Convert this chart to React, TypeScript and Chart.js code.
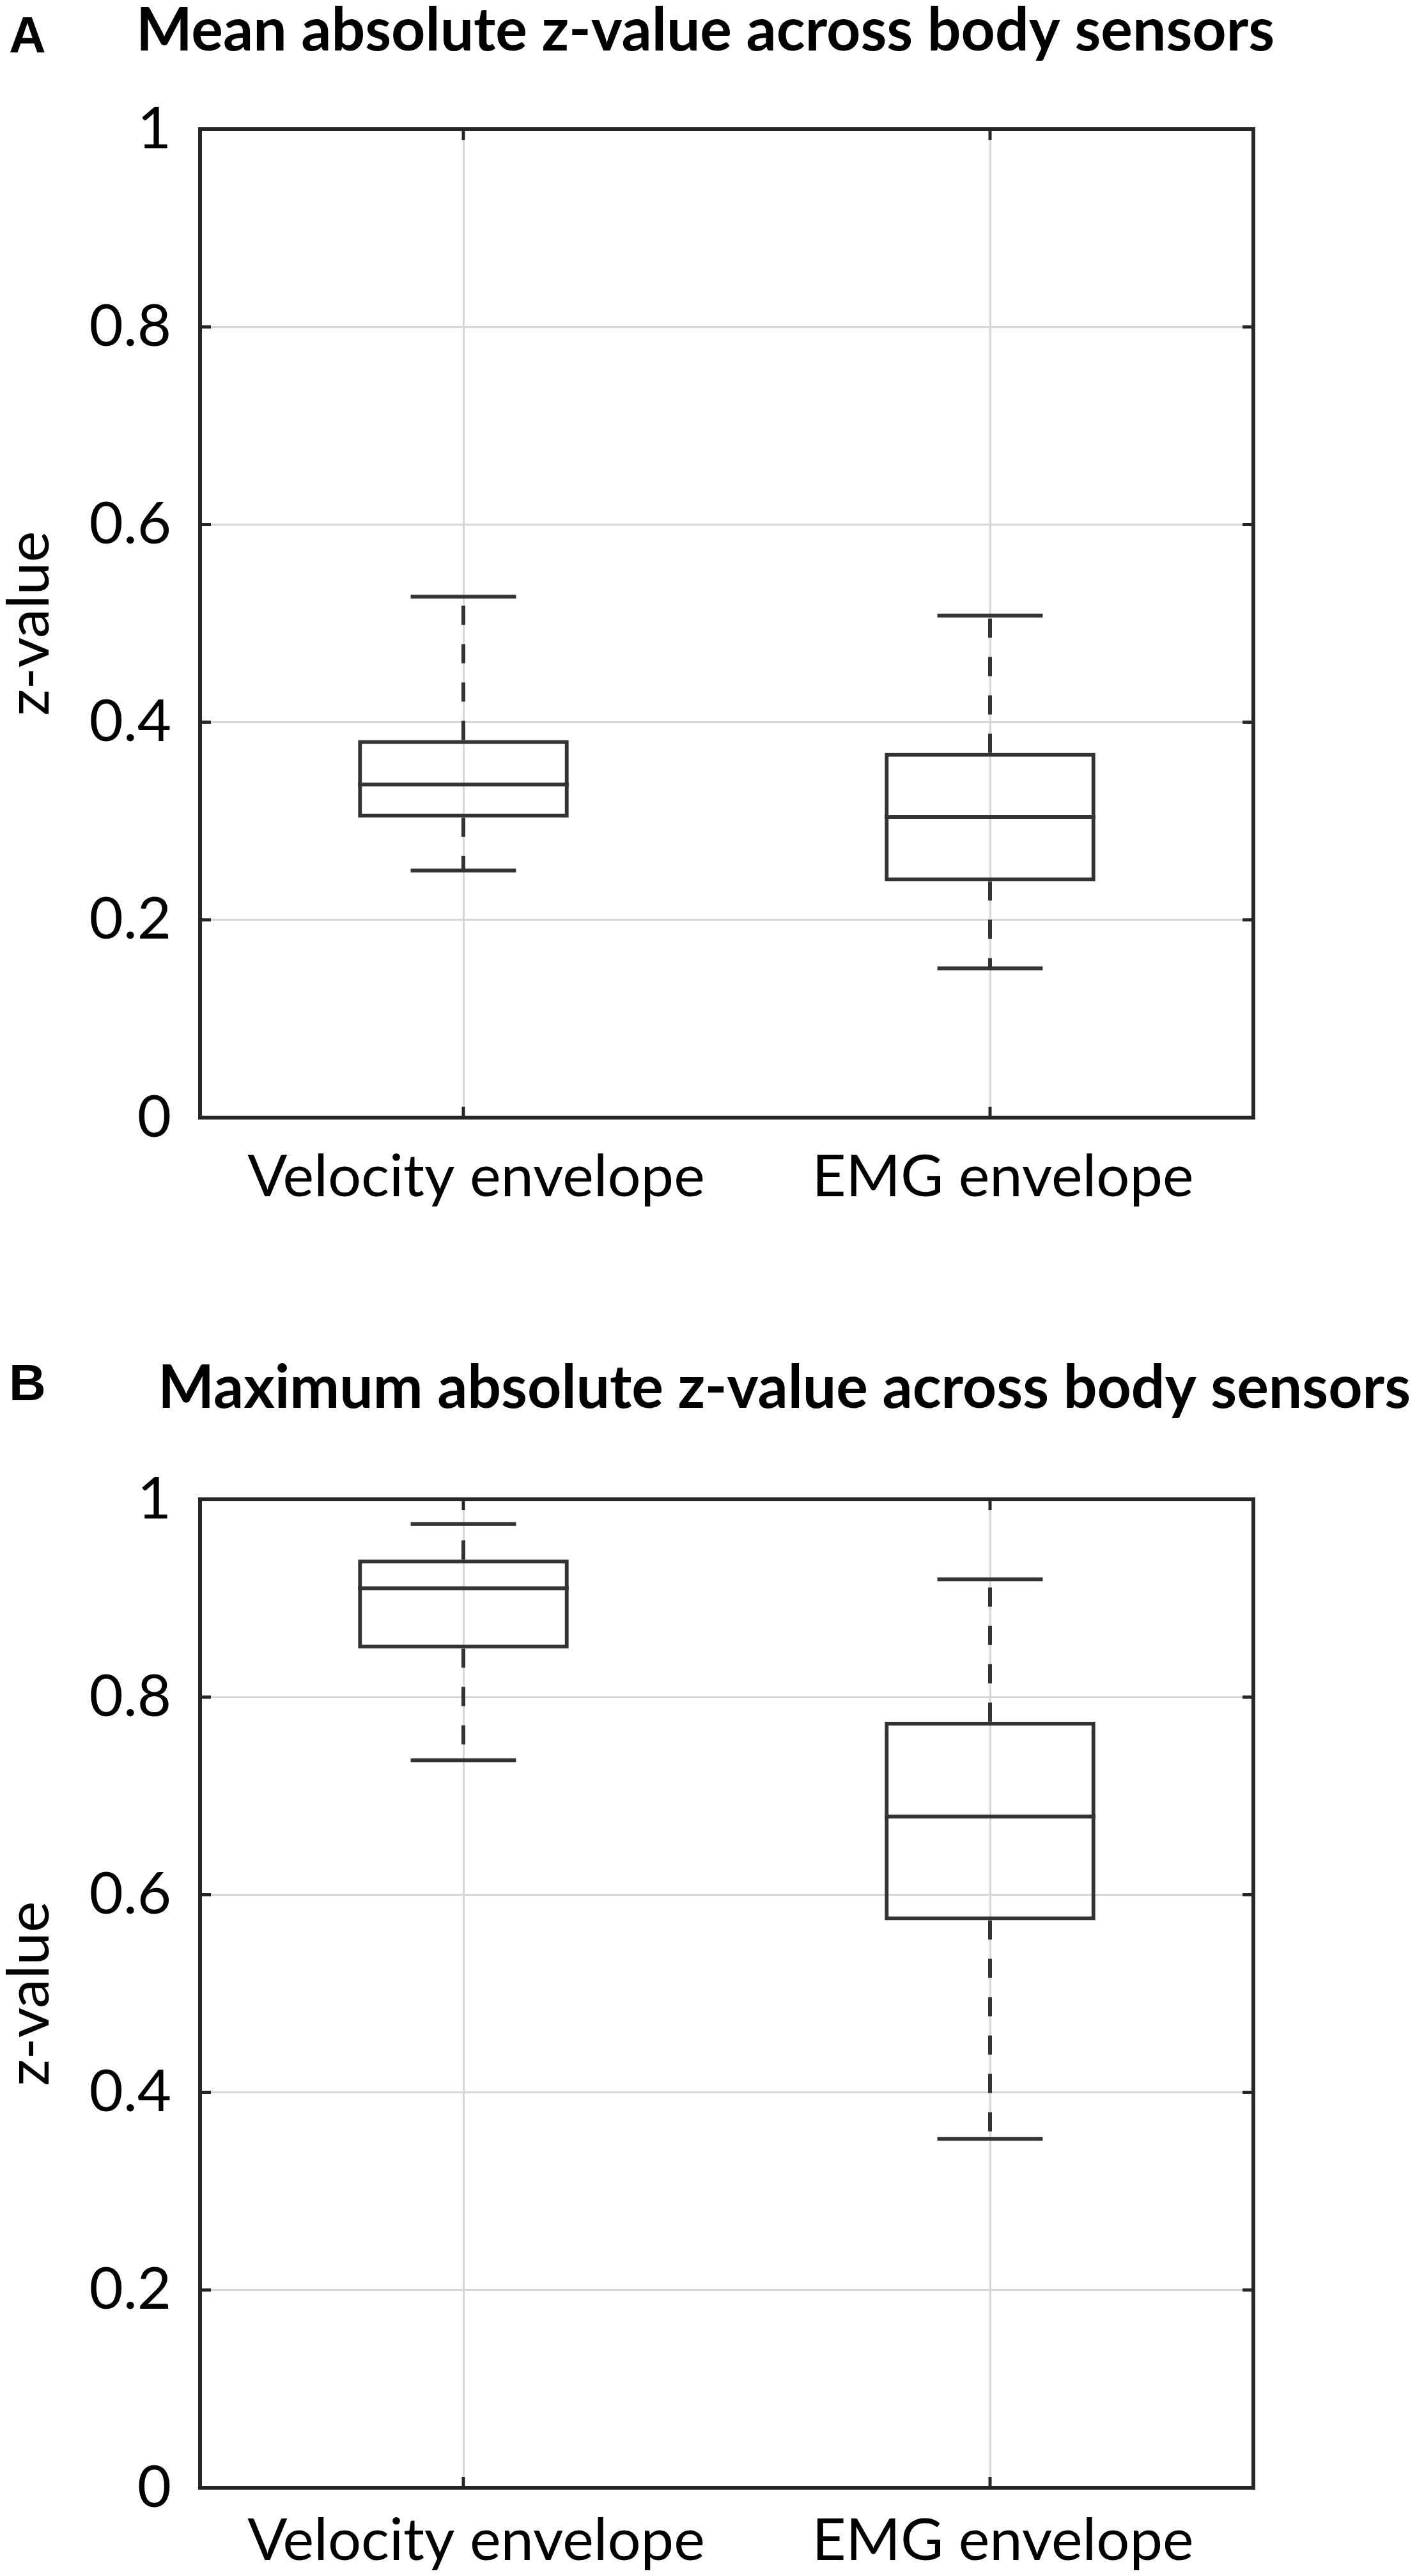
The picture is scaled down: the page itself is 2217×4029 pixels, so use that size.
import { useEffect, useRef } from 'react'
import { Chart, registerables } from 'chart.js'

Chart.register(...registerables)

const categories = ['Velocity envelope', 'EMG envelope']

// panel A: mean absolute z-value
const meanMin = [0.25, 0.151]
const meanQ1 = [0.3035, 0.239]
const meanMedian = [0.337, 0.304]
const meanQ3 = [0.382, 0.369]
const meanMax = [0.527, 0.508]

// panel B: maximum absolute z-value
const maxMin = [0.736, 0.353]
const maxQ1 = [0.849, 0.574]
const maxMedian = [0.91, 0.679]
const maxQ3 = [0.939, 0.775]
const maxMax = [0.975, 0.919]

const yTicks = [0, 0.2, 0.4, 0.6, 0.8, 1]
const yTickLabels = ['0', '0.2', '0.4', '0.6', '0.8', '1']

const FRAME = '#262626'
const BOX = '#333333'
const GRID = '#d6d6d6'

// draws median, dashed whiskers, caps, the closed axes box, inward ticks and the panel letter
const matlabBox = {
  id: 'matlabBox',
  afterDatasetsDraw(chart: any, _args: any, opts: any) {
    const { ctx, chartArea: a, scales } = chart
    const x = scales.x
    const y = scales.y
    const meta = chart.getDatasetMeta(0)
    ctx.save()
    ctx.strokeStyle = BOX
    ctx.lineWidth = 6
    ctx.lineCap = 'butt'
    opts.median.forEach((m: number, i: number) => {
      const cx = x.getPixelForValue(i)
      const half = meta.data[i].width / 2
      const cap = half / 2
      // median
      ctx.setLineDash([])
      ctx.beginPath()
      ctx.moveTo(cx - half, y.getPixelForValue(m))
      ctx.lineTo(cx + half, y.getPixelForValue(m))
      ctx.stroke()
      // caps
      ;[opts.max[i], opts.min[i]].forEach((v: number) => {
        ctx.beginPath()
        ctx.moveTo(cx - cap, y.getPixelForValue(v))
        ctx.lineTo(cx + cap, y.getPixelForValue(v))
        ctx.stroke()
      })
      // whiskers
      ctx.setLineDash([30, 30])
      ctx.beginPath()
      ctx.moveTo(cx, y.getPixelForValue(opts.q3[i]))
      ctx.lineTo(cx, y.getPixelForValue(opts.max[i]))
      ctx.stroke()
      ctx.beginPath()
      ctx.moveTo(cx, y.getPixelForValue(opts.q1[i]))
      ctx.lineTo(cx, y.getPixelForValue(opts.min[i]))
      ctx.stroke()
    })
    ctx.setLineDash([])

    // inward ticks on all four sides
    const tl = 17
    ctx.strokeStyle = FRAME
    ctx.lineWidth = 5
    y.ticks.forEach((t: any) => {
      const py = y.getPixelForValue(t.value)
      ctx.beginPath()
      ctx.moveTo(a.left, py)
      ctx.lineTo(a.left + tl, py)
      ctx.moveTo(a.right, py)
      ctx.lineTo(a.right - tl, py)
      ctx.stroke()
    })
    x.ticks.forEach((_t: any, i: number) => {
      const px = x.getPixelForValue(i)
      ctx.beginPath()
      ctx.moveTo(px, a.bottom)
      ctx.lineTo(px, a.bottom - tl)
      ctx.moveTo(px, a.top)
      ctx.lineTo(px, a.top + tl)
      ctx.stroke()
    })

    // frame
    ctx.lineWidth = 6
    ctx.strokeRect(a.left, a.top, a.right - a.left, a.bottom - a.top)

    // panel letter
    ctx.fillStyle = '#000'
    ctx.font = 'bold 80px "Liberation Sans", Arial, sans-serif'
    ctx.textBaseline = 'alphabetic'
    ctx.textAlign = 'left'
    ctx.fillText(opts.letter, 14, opts.letterY)
    ctx.restore()
  },
}

interface IPanelProps {
  height: number
  title: string
  titleAlign: 'center' | 'end'
  titlePadTop: number
  titlePadBottom: number
  xAxisHeight: number
  xLabelPad: number
  letter: string
  letterY: number
  min: number[]
  q1: number[]
  median: number[]
  q3: number[]
  max: number[]
}

const BoxPanel = (props: IPanelProps) => {
  const chartRef = useRef<HTMLCanvasElement | null>(null)

  useEffect(() => {
    let chartInstance: Chart | null = null
    if (chartRef.current) {
      chartInstance = new Chart(chartRef.current, {
        type: 'bar',
        data: {
          labels: categories,
          datasets: [
            {
              data: props.q1.map((v, i) => [v, props.q3[i]]) as any,
              backgroundColor: 'rgba(0,0,0,0)',
              borderColor: BOX,
              borderWidth: 6,
              borderSkipped: false,
              categoryPercentage: 1,
              barPercentage: 0.4,
            },
          ],
        },
        options: {
          animation: false,
          responsive: false,
          devicePixelRatio: 1,
          font: { family: 'Lato' },
          layout: { padding: { left: 0, right: 10, top: 0, bottom: 0 } },
          plugins: {
            legend: { display: false },
            tooltip: { enabled: false },
            title: {
              display: true,
              text: props.title,
              align: props.titleAlign,
              color: '#000',
              font: { family: 'Lato', size: 93, weight: 'bold', lineHeight: 1 },
              padding: { top: props.titlePadTop, bottom: props.titlePadBottom },
            },
            matlabBox: {
              letter: props.letter,
              letterY: props.letterY,
              min: props.min,
              q1: props.q1,
              median: props.median,
              q3: props.q3,
              max: props.max,
            },
          } as any,
          scales: {
            x: {
              grid: { offset: false, color: GRID, lineWidth: 3, drawTicks: false },
              border: { display: false },
              ticks: {
                color: '#000',
                font: { family: 'Lato', size: 92 },
                padding: props.xLabelPad,
                labelOffset: 20,
                maxRotation: 0,
                autoSkip: false,
              },
              afterFit: (s: any) => {
                s.height = props.xAxisHeight
              },
            },
            y: {
              min: 0,
              max: 1,
              afterBuildTicks: (s: any) => {
                s.ticks = yTicks.map((v) => ({ value: v }))
              },
              grid: { color: GRID, lineWidth: 3, drawTicks: false },
              border: { display: false },
              ticks: {
                color: '#000',
                font: { family: 'Lato', size: 92 },
                padding: 45,
                callback: (_v: any, i: number) => yTickLabels[i],
              },
              title: {
                display: true,
                text: 'z-value',
                color: '#000',
                font: { family: 'Lato', size: 92, lineHeight: 1 },
                padding: 0,
              },
              afterFit: (s: any) => {
                s.width = 313
              },
            },
            yR: {
              type: 'linear',
              position: 'right',
              grid: { display: false },
              border: { display: false },
              ticks: { display: false },
              afterFit: (s: any) => {
                s.width = 246
              },
            },
          },
        },
        plugins: [matlabBox],
      })
    }
    return () => {
      if (chartInstance) {
        chartInstance.destroy()
      }
    }
  }, [props])

  return (
    <canvas
      ref={chartRef}
      width={2217}
      height={props.height}
      style={{ display: 'block', width: 2217, height: props.height }}
    />
  )
}

const panelA: IPanelProps = {
  height: 2000,
  title: 'Mean absolute z-value across body sensors',
  titleAlign: 'center',
  titlePadTop: 2,
  titlePadBottom: 107,
  xAxisHeight: 252,
  xLabelPad: 38,
  letter: 'A',
  letterY: 82,
  min: meanMin,
  q1: meanQ1,
  median: meanMedian,
  q3: meanQ3,
  max: meanMax,
}

const panelB: IPanelProps = {
  height: 2029,
  title: 'Maximum absolute z-value across body sensors',
  titleAlign: 'end',
  titlePadTop: 125,
  titlePadBottom: 127,
  xAxisHeight: 138,
  xLabelPad: 28,
  letter: 'B',
  letterY: 190,
  min: maxMin,
  q1: maxQ1,
  median: maxMedian,
  q3: maxQ3,
  max: maxMax,
}

export default function App() {
  useEffect(() => {
    document.body.style.margin = '0'
  }, [])

  return (
    <div style={{ width: 2217, background: '#fff' }}>
      <BoxPanel {...panelA} />
      <BoxPanel {...panelB} />
    </div>
  )
}
